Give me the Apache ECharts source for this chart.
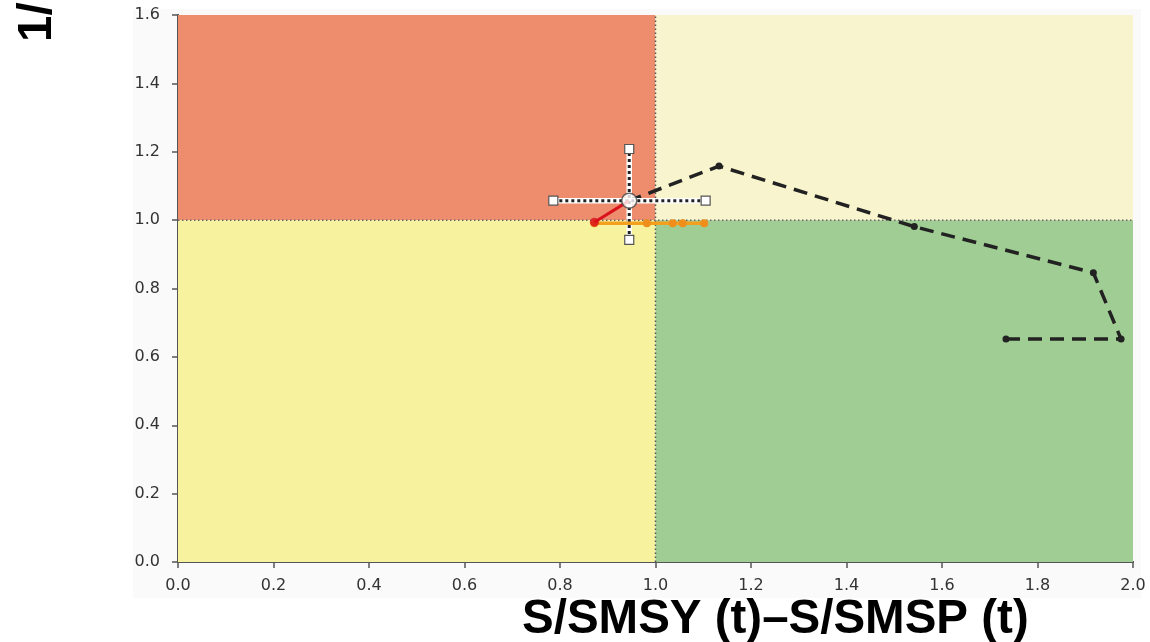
<!DOCTYPE html>
<html>
<head>
<meta charset="utf-8">
<script src="https://cdn.jsdelivr.net/npm/echarts@6/dist/echarts.min.js"></script>
<style>html,body{margin:0;padding:0;background:#fff}#c{width:1150px;height:642px}</style>
</head>
<body>
<div id="c"></div>
<script>
// ---- data ----
var xTicks = [0.0, 0.2, 0.4, 0.6, 0.8, 1.0, 1.2, 1.4, 1.6, 1.8, 2.0];
var yTicks = [0.0, 0.2, 0.4, 0.6, 0.8, 1.0, 1.2, 1.4, 1.6];
var quadrants = [ // [x0, y0, x1, y1]
  [0, 1, 1, 1.6],
  [1, 1, 2, 1.6],
  [0, 0, 1, 1],
  [1, 0, 2, 1]
];
var refX = [[1, 0], [1, 1.6]];
var refY = [[0, 1], [2, 1]];
var trajectory = [[1.734, 0.652], [1.975, 0.652], [1.917, 0.846], [1.542, 0.981], [1.133, 1.158], [0.945, 1.057]];
var current = [0.945, 1.057];
var errX = [[0.786, 1.057], [1.105, 1.057]];
var errY = [[0.945, 0.942], [0.945, 1.208]];
var redLine = [[0.945, 1.057], [0.872, 0.994]];
var orangeLine = [[0.872, 0.991], [0.982, 0.991], [1.036, 0.991], [1.057, 0.991], [1.102, 0.991]];
var xTitle = 'S/SMSY (t)\u2013S/SMSP (t)';
var yTitle = '1/F/FMSY (t)';

var quadColors = ['#EE8D6D', '#F8F4CD', '#F6F29D', '#A0CD93'];

var chart = echarts.init(document.getElementById('c'), null, {renderer: 'canvas'});
var axisCol = '#555';
var lbl = {fontFamily: 'DejaVu Sans', fontSize: 16, color: '#333'};

chart.setOption({
  animation: false,
  backgroundColor: '#fff',
  graphic: [
    {type: 'rect', z: -10, shape: {x: 133, y: 9, width: 1008, height: 589}, style: {fill: '#FAFAFA'}},
    {type: 'text', x: 522, y: 620, z: 10, style: {text: xTitle, font: 'bold 47.5px "Liberation Sans"', fill: '#000', align: 'left', verticalAlign: 'middle'}},
    {type: 'text', x: 38, y: 42, rotation: Math.PI / 2, z: 10, style: {text: yTitle, font: 'bold 47.5px "Liberation Sans"', fill: '#000', align: 'left', verticalAlign: 'middle'}}
  ],
  grid: {left: 178, right: 17, top: 15, bottom: 80, containLabel: false},
  xAxis: [{
    type: 'value', min: 0, max: 2, interval: 0.2,
    axisLine: {show: true, lineStyle: {color: axisCol, width: 2}},
    axisTick: {show: true, length: 6, lineStyle: {color: axisCol, width: 1.5}},
    axisLabel: Object.assign({margin: 16, formatter: function (v) { return v.toFixed(1); }}, lbl),
    splitLine: {show: false}
  }, {
    type: 'value', position: 'top', min: 0, max: 2,
    axisLine: {show: true, lineStyle: {color: axisCol, width: 2}},
    axisTick: {show: false}, axisLabel: {show: false}, splitLine: {show: false}
  }],
  yAxis: [{
    type: 'value', min: 0, max: 1.6, interval: 0.2,
    axisLine: {show: true, lineStyle: {color: axisCol, width: 2}},
    axisTick: {show: true, length: 6, lineStyle: {color: axisCol, width: 1.5}},
    axisLabel: Object.assign({margin: 18, formatter: function (v) { return v.toFixed(1); }}, lbl),
    splitLine: {show: false}
  }, {
    type: 'value', position: 'right', min: 0, max: 1.6,
    axisLine: {show: true, lineStyle: {color: axisCol, width: 2}},
    axisTick: {show: false}, axisLabel: {show: false}, splitLine: {show: false}
  }],
  series: [
    {
      type: 'custom', z: 1, silent: true,
      data: quadrants.map(function (q, i) { return q.concat([i]); }),
      renderItem: function (params, api) {
        var p0 = api.coord([api.value(0), api.value(3)]);
        var p1 = api.coord([api.value(2), api.value(1)]);
        return {type: 'rect', shape: {x: p0[0], y: p0[1], width: p1[0] - p0[0], height: p1[1] - p0[1]},
          style: {fill: quadColors[api.value(4)]}};
      },
      encode: {x: [0, 2], y: [1, 3]}
    },
    {type: 'line', z: 3, data: refX, symbol: 'none', lineStyle: {color: '#555', width: 1.5, type: [1.5, 2.5]}},
    {type: 'line', z: 3, data: refY, symbol: 'none', lineStyle: {color: '#666', width: 1.5, type: [1.5, 2.5]}},
    {type: 'line', z: 4, data: trajectory, symbol: 'circle', symbolSize: 7, showAllSymbol: true,
      itemStyle: {color: '#222'}, lineStyle: {color: '#222', width: 3.5, type: [14, 8]}},
    {type: 'line', z: 5, data: errX, symbol: 'none', lineStyle: {color: '#fff', width: 5.5}},
    {type: 'line', z: 5, data: errY, symbol: 'none', lineStyle: {color: '#fff', width: 5.5}},
    {type: 'line', z: 6, data: errX, symbol: 'rect', symbolSize: 9, itemStyle: {color: '#fff', borderColor: '#555', borderWidth: 1.2},
      lineStyle: {color: '#222', width: 3, type: [3, 3]}},
    {type: 'line', z: 6, data: errY, symbol: 'rect', symbolSize: 9, itemStyle: {color: '#fff', borderColor: '#555', borderWidth: 1.2},
      lineStyle: {color: '#222', width: 3, type: [3, 3]}},
    {type: 'line', z: 7, data: orangeLine, symbol: 'circle', symbolSize: 8, showAllSymbol: true,
      itemStyle: {color: '#F08E1C'}, lineStyle: {color: '#F2A01E', width: 3.5}},
    {type: 'line', z: 8, data: redLine, symbol: 'none', lineStyle: {color: '#D9121B', width: 3}},
    {type: 'scatter', z: 8, data: [redLine[1]], symbol: 'circle', symbolSize: 9, itemStyle: {color: '#D9121B'}},
    {type: 'scatter', z: 9, data: [current], symbol: 'circle', symbolSize: 15, itemStyle: {color: '#fff', borderColor: '#444', borderWidth: 1.5}}
  ]
});
</script>
</body>
</html>
